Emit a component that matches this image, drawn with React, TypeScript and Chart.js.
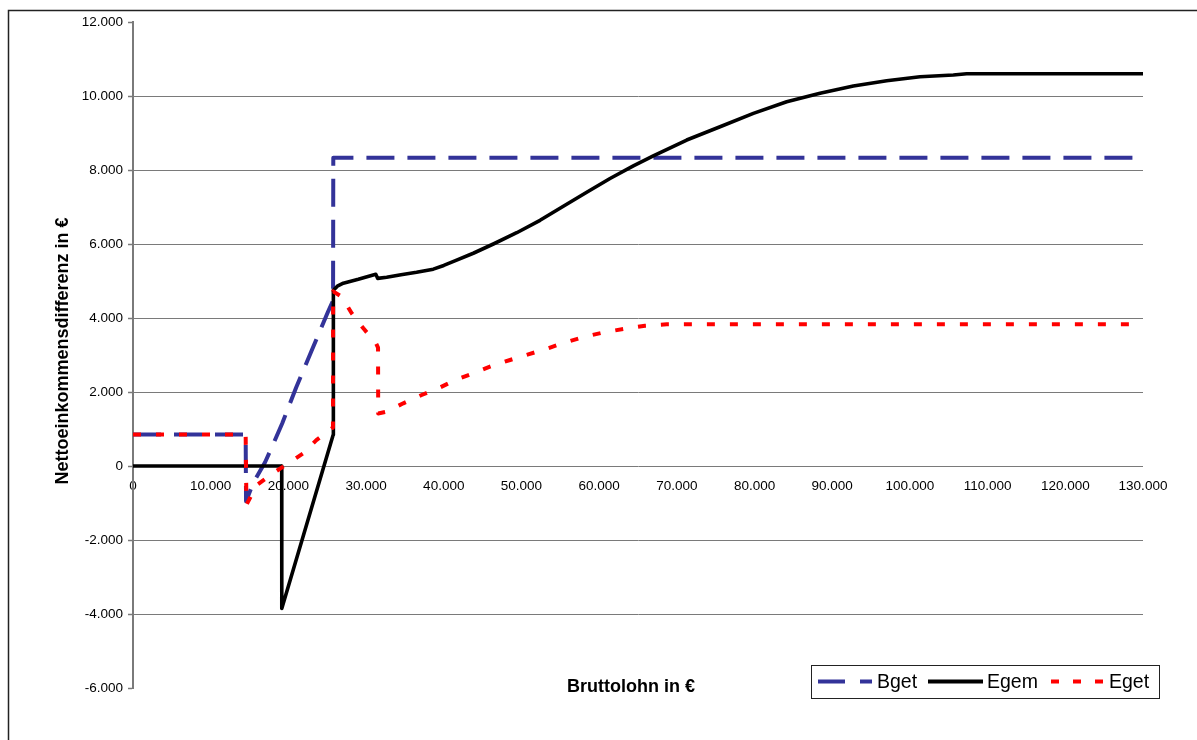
import React, { useEffect, useRef } from "react";
import { Chart, registerables } from "chart.js";

Chart.register(...registerables);

// ---- Data ----
const X_MIN = 0;
const X_MAX = 130000;
const X_STEP = 10000;
const Y_MIN = -6000;
const Y_MAX = 12000;
const Y_STEP = 2000;

const SERIES_NAMES = ["Bget", "Egem", "Eget"];

const BGET_X = [0, 14500, 14550, 15500, 17000, 18100, 19200, 21000, 23000, 25100, 25750, 25780, 130000];
const BGET_Y = [850, 850, -950, -450, 100, 620, 1150, 2120, 3120, 4170, 4470, 8330, 8330];

const EGEM_X = [
  0, 19140, 19150, 25760, 25790, 26300, 27070, 29000, 31250, 31500, 32650, 34500, 36500, 38650,
  40000, 41500, 43800, 46380, 49390, 52390, 55390, 58400, 61400, 64400, 66970, 71270, 75560,
  79850, 84140, 88430, 92720, 97010, 101300, 105590, 107300, 130000,
];
const EGEM_Y = [
  0, 0, -3850, 840, 4750, 4860, 4940, 5045, 5180, 5070, 5100, 5170, 5235, 5320,
  5420, 5550, 5750, 6000, 6305, 6640, 7020, 7400, 7770, 8110, 8380, 8810, 9170,
  9530, 9846, 10072, 10270, 10414, 10522, 10568, 10600, 10600,
];

const EGET_X = [
  0, 14500, 14600, 15900, 18000, 19800, 21900, 23600, 25600, 25740, 25760, 26860, 28150,
  29650, 31280, 31540, 31560, 32650, 34790, 37160, 39300, 41670, 43800, 46170, 48530,
  50880, 53160, 55520, 58180, 60630, 63330, 65900, 68700, 130000,
];
const EGET_Y = [
  850, 850, -1050, -520, -200, 50, 340, 700, 1020, 1040, 4720, 4577, 4126,
  3721, 3315, 3200, 1420, 1470, 1694, 1919, 2099, 2342, 2505, 2703, 2865,
  3018, 3162, 3333, 3495, 3613, 3711, 3792, 3830, 3830,
];

const X_TITLE = "Bruttolohn in €";
const Y_TITLE = "Nettoeinkommensdifferenz in €";

// ---- Styles ----
const FONT = "'Liberation Sans', Arial, Helvetica, sans-serif";
const BLUE = "#333399";
const RED = "#ff0000";
const BLACK = "#000000";
const GRID = "#7a7a7a";

const fmt = (v: number) => {
  const s = Math.round(Math.abs(v)).toString().replace(/\B(?=(\d{3})+(?!\d))/g, ".");
  return (v < 0 ? "-" : "") + s;
};

const toPoints = (xs: number[], ys: number[]) => xs.map((x, i) => ({ x, y: ys[i] }));

const decorPlugin = {
  id: "decor",
  beforeDraw(chart: any) {
    const ctx = chart.ctx;
    ctx.save();
    ctx.fillStyle = "#ffffff";
    ctx.fillRect(0, 0, chart.width, chart.height);
    ctx.strokeStyle = "#222222";
    ctx.lineWidth = 1.5;
    ctx.strokeRect(8.5, 10.5, chart.width + 50, chart.height + 50);
    ctx.restore();
  },
  afterDraw(chart: any) {
    const ctx = chart.ctx;
    const area = chart.chartArea;
    ctx.save();
    ctx.fillStyle = "#000";
    ctx.font = `bold 18px ${FONT}`;
    ctx.textAlign = "center";
    ctx.textBaseline = "alphabetic";
    ctx.translate(68, (area.top + area.bottom) / 2 - 4);
    ctx.rotate(-Math.PI / 2);
    ctx.fillText(Y_TITLE, 0, 0);
    ctx.restore();

    ctx.save();
    ctx.fillStyle = "#000";
    ctx.font = `bold 18px ${FONT}`;
    ctx.textAlign = "center";
    ctx.textBaseline = "alphabetic";
    ctx.fillText(X_TITLE, 631, 692);
    ctx.restore();

    // legend
    ctx.save();
    const bx = 811, by = 665, bw = 348, bh = 33;
    ctx.fillStyle = "#fff";
    ctx.fillRect(bx, by, bw, bh);
    ctx.strokeStyle = "#222";
    ctx.lineWidth = 1;
    ctx.strokeRect(bx + 0.5, by + 0.5, bw, bh);
    const ly = 681.5;
    const items = [
      { x0: 818, x1: 872, tx: 877, color: BLUE, dash: [27, 15], w: 4 },
      { x0: 928, x1: 983, tx: 987, color: BLACK, dash: [], w: 4 },
      { x0: 1051, x1: 1104, tx: 1109, color: RED, dash: [8, 14], w: 4 },
    ];
    items.forEach((it, i) => {
      ctx.beginPath();
      ctx.setLineDash(it.dash);
      ctx.lineDashOffset = 0;
      ctx.strokeStyle = it.color;
      ctx.lineWidth = it.w;
      ctx.lineCap = "butt";
      ctx.moveTo(it.x0, ly);
      ctx.lineTo(it.x1, ly);
      ctx.stroke();
      ctx.setLineDash([]);
      ctx.fillStyle = "#000";
      ctx.font = `19.5px ${FONT}`;
      ctx.textAlign = "left";
      ctx.textBaseline = "alphabetic";
      ctx.fillText(SERIES_NAMES[i], it.tx, 688);
    });
    ctx.restore();
  },
};

export default function App() {
  const ref = useRef<HTMLCanvasElement | null>(null);

  useEffect(() => {
    if (!ref.current) return;
    const chart = new Chart(ref.current, {
      type: "line",
      data: {
        datasets: [
          {
            label: SERIES_NAMES[0],
            data: toPoints(BGET_X, BGET_Y),
            borderColor: BLUE,
            borderWidth: 4,
            borderDash: [28, 13],
            borderJoinStyle: "round",
            pointRadius: 0,
            tension: 0,
            fill: false,
            order: 2,
          },
          {
            label: SERIES_NAMES[1],
            data: toPoints(EGEM_X, EGEM_Y),
            borderColor: BLACK,
            borderWidth: 3.6,
            borderJoinStyle: "round",
            pointRadius: 0,
            tension: 0,
            fill: false,
            order: 1,
          },
          {
            label: SERIES_NAMES[2],
            data: toPoints(EGET_X, EGET_Y),
            borderColor: RED,
            borderWidth: 4,
            borderDash: [8, 15],
            borderJoinStyle: "round",
            pointRadius: 0,
            tension: 0,
            fill: false,
            order: 0,
          },
        ],
      },
      options: {
        animation: false,
        responsive: false,
        devicePixelRatio: 1,
        layout: { padding: { left: 0, top: 22, right: 54, bottom: 52 } },
        plugins: {
          legend: { display: false },
          tooltip: { enabled: false },
          title: { display: false },
        },
        scales: {
          x: {
            type: "linear",
            position: { y: 0 } as any,
            min: X_MIN,
            max: X_MAX,
            grid: { display: false, drawTicks: false },
            border: { display: false },
            ticks: {
              stepSize: X_STEP,
              padding: 12,
              color: "#000",
              font: { family: FONT, size: 13.5 },
              maxRotation: 0,
              autoSkip: false,
              callback: (v: any) => fmt(Number(v)),
            },
          },
          y: {
            type: "linear",
            position: "left",
            min: Y_MIN,
            max: Y_MAX,
            afterFit: (scale: any) => {
              scale.width = 133;
            },
            grid: {
              color: (c: any) =>
                c.tick && (c.tick.value === Y_MAX || c.tick.value === Y_MIN) ? "rgba(0,0,0,0)" : GRID,
              lineWidth: 1,
              drawTicks: true,
              tickLength: 5,
              tickColor: GRID,
              tickWidth: 1.5,
            },
            border: { display: true, color: GRID, width: 2 },
            ticks: {
              stepSize: Y_STEP,
              padding: 5,
              color: "#000",
              font: { family: FONT, size: 13.5 },
              callback: (v: any) => fmt(Number(v)),
            },
          },
        },
      },
      plugins: [decorPlugin],
    } as any);
    return () => chart.destroy();
  }, []);

  return (
    <div style={{ position: "fixed", left: 0, top: 0, width: 1197, height: 740, background: "#fff" }}>
      <canvas ref={ref} width={1197} height={740} style={{ width: 1197, height: 740, display: "block" }} />
    </div>
  );
}
